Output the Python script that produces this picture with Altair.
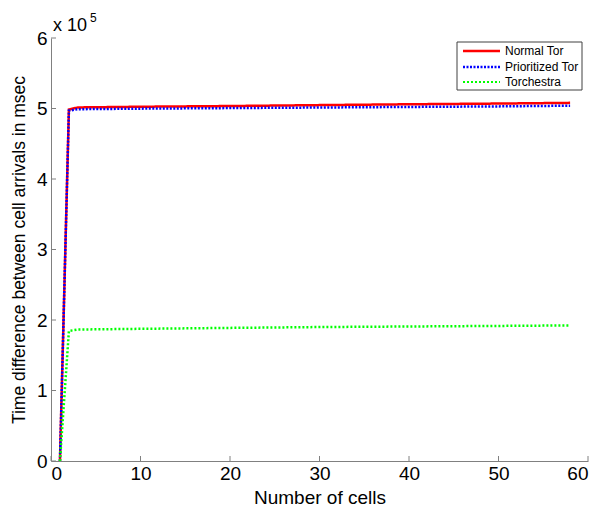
import altair as alt
import pandas as pd

cells = [1, 2, 3, 10, 20, 30, 40, 50, 58]
normal_tor = [0, 498500, 501500, 502500, 503500, 504800, 506000, 507000, 508000]
prioritized_tor = [0, 497000, 499000, 499800, 500600, 501400, 502200, 503000, 504000]
torchestra = [0, 184500, 186500, 187500, 188800, 190000, 190800, 191600, 192300]
series_names = ["Normal Tor", "Prioritized Tor", "Torchestra"]
series_colors = ["#ff0000", "#0000ff", "#00ff00"]
series_dash = [[1, 0], [2, 1.5], [2, 2]]
series_width = [2.5, 2.5, 2.0]
x_ticks = [0, 10, 20, 30, 40, 50, 60]
y_ticks = [0, 100000, 200000, 300000, 400000, 500000, 600000]

rows = []
for name, vals in zip(series_names, [normal_tor, prioritized_tor, torchestra]):
    for c, v in zip(cells, vals):
        rows.append({"cells": c, "value": v, "series": name})
df = pd.DataFrame(rows)

FONT = "Liberation Sans"
W, H = 537, 423

xscale = alt.Scale(domain=[0, 60], nice=False, zero=False)
yscale = alt.Scale(domain=[0, 600000], nice=False)

lines = alt.Chart(df).mark_line(clip=True).encode(
    x=alt.X("cells:Q", scale=xscale,
            axis=alt.Axis(values=x_ticks, title="Number of cells", ticks=False,
                          grid=False, labelFontSize=19, labelFont=FONT,
                          labelPadding=3, titleFontSize=19, titleFont=FONT,
                          titleFontWeight="normal", titlePadding=5,
                          domainColor="#808080", labelColor="#000",
                          titleColor="#000")),
    y=alt.Y("value:Q", scale=yscale,
            axis=alt.Axis(values=y_ticks, title="Time difference between cell arrivals in msec",
                          ticks=False, grid=False, labelFontSize=19, labelFont=FONT,
                          labelExpr="datum.value / 100000", labelPadding=4,
                          titleFontSize=17.5, titleFont=FONT, titleFontWeight="normal",
                          titlePadding=8, domainColor="#808080", labelColor="#000",
                          titleColor="#000")),
    color=alt.Color("series:N", scale=alt.Scale(domain=series_names, range=series_colors),
                    legend=None),
    strokeDash=alt.StrokeDash("series:N", scale=alt.Scale(domain=series_names, range=series_dash),
                              legend=None),
    strokeWidth=alt.StrokeWidth("series:N", scale=alt.Scale(domain=series_names, range=series_width),
                                legend=None),
    order=alt.Order("cells:Q"),
)

xt = alt.Chart(pd.DataFrame({"t": x_ticks})).mark_rule(color="#808080", strokeWidth=1).encode(
    x=alt.X("t:Q", scale=xscale), y=alt.value(H), y2=alt.value(H - 5))
yt = alt.Chart(pd.DataFrame({"t": y_ticks})).mark_rule(color="#808080", strokeWidth=1).encode(
    y=alt.Y("t:Q", scale=yscale), x=alt.value(0), x2=alt.value(5))

exp_base = alt.Chart(pd.DataFrame({"s": ["x 10"]})).mark_text(
    align="left", baseline="middle", font=FONT, fontSize=18, color="#000").encode(
    text="s:N", x=alt.value(2), y=alt.value(-12))
exp_sup = alt.Chart(pd.DataFrame({"s": ["5"]})).mark_text(
    align="left", baseline="middle", font=FONT, fontSize=12, color="#000").encode(
    text="s:N", x=alt.value(39), y=alt.value(-20))

# manual legend (box + samples + labels)
leg_box = alt.Chart(pd.DataFrame({"s": ["box"]})).mark_rect(
    fill="#ffffff", stroke="#404040", strokeWidth=1).encode(
    x=alt.value(406), x2=alt.value(531), y=alt.value(4), y2=alt.value(52))
leg_rows = [13, 29, 44]
leg_layers = [leg_box]
for name, c, d, w, yy in zip(series_names, series_colors, series_dash, series_width, leg_rows):
    leg_layers.append(
        alt.Chart(pd.DataFrame({"s": [name]})).mark_rule(color=c, strokeDash=d, strokeWidth=w).encode(
            x=alt.value(412), x2=alt.value(449), y=alt.value(yy)))
    leg_layers.append(
        alt.Chart(pd.DataFrame({"s": [name]})).mark_text(
            align="left", baseline="middle", font=FONT, fontSize=12, color="#000").encode(
            text="s:N", x=alt.value(454), y=alt.value(yy)))

chart = alt.layer(lines, xt, yt, exp_base, exp_sup, *leg_layers).properties(
    width=W, height=H,
    autosize=alt.AutoSizeParams(type="none"),
    padding={"left": 51, "top": 38, "right": 12, "bottom": 47},
    background="#ffffff",
).configure_view(stroke=None)

chart.save("out.html", embed_options={"renderer": "svg", "actions": False})
